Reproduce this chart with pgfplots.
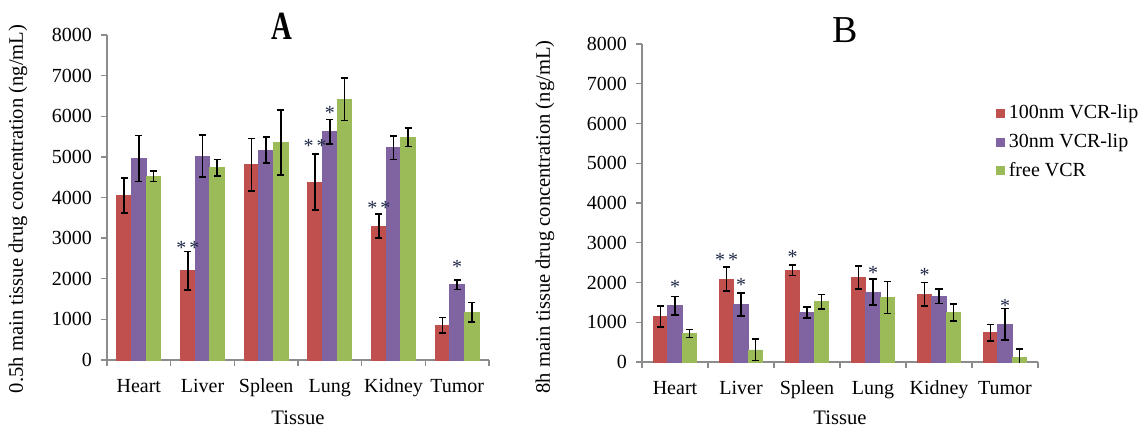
\documentclass[border=0pt]{standalone}
\usepackage{pgfplots}
\pgfplotsset{compat=1.18}
\usepackage{pgfplotstable}
\usepackage{fontspec}
\setmainfont{Liberation Serif}
\definecolor{cred}{HTML}{C0504D}
\definecolor{cpur}{HTML}{8064A2}
\definecolor{cgrn}{HTML}{9BBB59}
\definecolor{cstar}{RGB}{30,40,70}
\definecolor{caxis}{RGB}{140,140,140}

\pgfplotstableread{
x red rede pur pure grn grne
0 4050 430 4960 570 4520 130
1 2200 470 5020 520 4733 200
2 4807 650 5168 320 5357 800
3 4380 690 5619 300 6415 520
4 3298 300 5226 290 5488 230
5 853 190 1854 115 1173 240
}\tabA

\pgfplotstableread{
x red rede pur pure grn grne
0 1145 260 1415 235 716 100
1 2088 295 1440 290 303 270
2 2307 135 1246 135 1516 185
3 2122 290 1760 330 1625 400
4 1709 295 1659 185 1246 210
5 733 210 952 395 110 210
}\tabB

\tikzset{stars/.style={font=\fontsize{10}{10}\selectfont, text=cstar, inner sep=0pt, anchor=center}}

\pgfplotsset{
  myaxis/.style={
    scale only axis,
    ymin=0, ymax=8000,
    xmin=-0.5, xmax=5.5,
    ytick={0,1000,...,8000},
    xtick={0,...,5},
    xticklabels={Heart,Liver,Spleen,Lung,Kidney,Tumor},
    minor xtick={-0.5,0.5,...,5.5},
    axis x line*=bottom,
    axis y line*=left,
    axis line style={caxis, line width=0.7pt, -},
    tick align=outside,
    major tick length=3pt,
    minor tick length=3pt,
    major x tick style={draw=none},
    minor x tick style={caxis, line width=0.7pt},
    major y tick style={caxis, line width=0.7pt},
    /pgf/number format/1000 sep={},
    /pgf/number format/assume math mode=true,
    tick label style={font=\fontsize{10}{12}\selectfont},
    xticklabel style={yshift=-3pt},
    yticklabel style={xshift=-1pt},
    label style={font=\fontsize{10.3}{12}\selectfont},
    xlabel={Tissue},
    ybar,
    clip=true,
    error bars/y dir=both,
    error bars/y explicit,
    error bars/error bar style={black, line width=0.8pt},
    error bars/error mark options={rotate=90, mark size=1.8pt, black, line width=0.8pt},
  },
}

\begin{document}
\begin{tikzpicture}
\useasboundingbox (0,0) rectangle (572pt,217pt);

% Panel A
\begin{axis}[myaxis,
  at={(53.5pt,37pt)}, anchor=south west,
  width=191pt, height=162.5pt,
  bar width=0.23,
  ylabel={0.5h main tissue drug concentration (ng/mL)},
  ylabel style={at={(axis description cs:-0.233,0.465)}, anchor=center},
  xlabel style={at={(axis description cs:0.5,-0.178)}, anchor=center},
  title={\scalebox{0.72}[1]{A}},
  title style={at={(axis description cs:0.458,0.99)}, anchor=center, font=\fontsize{20}{22}\selectfont\bfseries},
]
\addplot[fill=cred, draw=cred, bar shift=-0.23] table[x=x, y=red, y error=rede] {\tabA};
\addplot[fill=cpur, draw=cpur, bar shift=0] table[x=x, y=pur, y error=pure] {\tabA};
\addplot[fill=cgrn, draw=cgrn, bar shift=0.23] table[x=x, y=grn, y error=grne] {\tabA};
\node[stars] at (axis cs:0.77,2760) {*\hspace{1.5pt}*};
\node[stars] at (axis cs:2.77,5280) {*\hspace{1.5pt}*};
\node[stars] at (axis cs:3.0,6080) {*};
\node[stars] at (axis cs:3.77,3740) {*\hspace{1.5pt}*};
\node[stars] at (axis cs:5.0,2280) {*};
\end{axis}

% Panel B
\begin{axis}[myaxis,
  at={(321pt,36pt)}, anchor=south west,
  width=198pt, height=159pt,
  bar width=0.217,
  ylabel={8h main tissue drug concentration (ng/mL)},
  ylabel style={at={(axis description cs:-0.245,0.456)}, anchor=center},
  xlabel style={at={(axis description cs:0.5,-0.176)}, anchor=center},
  title={B},
  title style={at={(axis description cs:0.513,1.006)}, anchor=center, font=\fontsize{19}{21}\selectfont},
  legend style={at={(axis description cs:0.893,0.822)}, anchor=north west, draw=none, fill=none, inner sep=0pt, font=\fontsize{10}{12}\selectfont, row sep=1.8pt, /tikz/every even column/.append style={column sep=3.5pt}},
  legend cell align=left,
  legend image code/.code={\fill[#1] (0pt,-2pt) rectangle (4pt,2pt);},
]
\addplot[fill=cred, draw=cred, bar shift=-0.217] table[x=x, y=red, y error=rede] {\tabB};
\addplot[fill=cpur, draw=cpur, bar shift=0] table[x=x, y=pur, y error=pure] {\tabB};
\addplot[fill=cgrn, draw=cgrn, bar shift=0.217] table[x=x, y=grn, y error=grne] {\tabB};
\legend{100nm VCR-lip, 30nm VCR-lip, free VCR}
\node[stars] at (axis cs:0.0,1880) {*};
\node[stars] at (axis cs:0.783,2560) {*\hspace{1.5pt}*};
\node[stars] at (axis cs:1.0,1930) {*};
\node[stars] at (axis cs:1.783,2640) {*};
\node[stars] at (axis cs:3.0,2240) {*};
\node[stars] at (axis cs:3.783,2180) {*};
\node[stars] at (axis cs:5.0,1420) {*};
\end{axis}
\end{tikzpicture}
\end{document}
